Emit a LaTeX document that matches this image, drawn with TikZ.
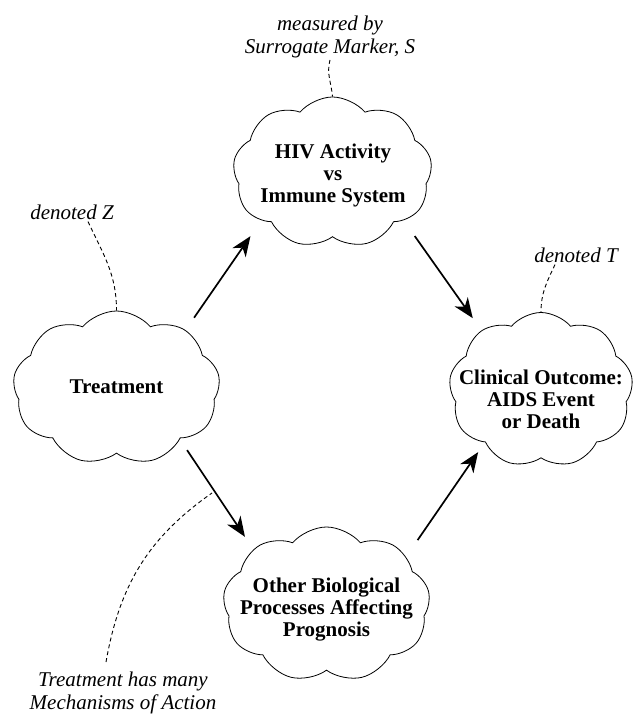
\documentclass[tikz,border=0pt]{standalone}
\usepackage{fontspec}
\setmainfont{Liberation Serif}
\usetikzlibrary{positioning,arrows.meta,shapes.symbols,calc}

\begin{document}
\begin{tikzpicture}[x=1pt,y=1pt,>=Stealth]
  \tikzset{
    blob/.style={cloud,draw=black,line width=0.8pt,cloud puffs=9,cloud puff arc=100,
                 cloud ignores aspect,inner sep=0pt},
    txt/.style={align=center,font=\fontsize{21}{22}\selectfont\bfseries},
    note/.style={align=center,inner sep=2pt,font=\fontsize{21}{22.5}\selectfont\itshape},
    arr/.style={-{Stealth[length=20pt,width=16pt,inset=6pt]},line width=1.7pt},
    hint/.style={dash pattern=on 4pt off 3pt,line width=0.9pt}}
  \useasboundingbox (0,0) rectangle (637,714);
  % the four clouds
  \node[blob,minimum width=207pt,minimum height=154pt] (treat) at (116.5,326){};
  \node[txt] (treatT) at (116.5,327){Treatment};
  \node[blob,minimum width=199pt,minimum height=151pt] (hiv) at (332.5,541.5){};
  \node[txt] (hivT) at (333,539){HIV Activity\\vs\\Immune System};
  \node[blob,minimum width=184pt,minimum height=155pt] (clin) at (541,324){};
  \node[txt] (clinT) at (541,315){Clinical Outcome:\\AIDS Event\\or Death};
  \node[blob,minimum width=207pt,minimum height=155pt] (other) at (326.5,109.5){};
  \node[txt] (otherT) at (326.5,104){Other Biological\\Processes Affecting\\Prognosis};
  % side notes
  \node[note] (labS) at (330,677){measured by\\Surrogate Marker, S};
  \node[note] (labZ) at (72,502){denoted Z};
  \node[note] (labT) at (576,459){denoted T};
  \node[note] (labM) at (123,21){Treatment has many\\Mechanisms of Action};
  \coordinate (mech) at (212,221);
  % arrows
  \draw[arr,shorten <=15pt,shorten >=19pt] (treat.40) -- (hiv.214);
  \draw[arr,shorten <=19pt,shorten >=15pt] (hiv.326) -- (clin.135);
  \draw[arr,shorten <=13pt,shorten >=15pt] (treat.321) -- (other.143);
  \draw[arr,shorten <=20pt,shorten >=12pt] (other.31) -- (clin.223);
  % dashed pointers
  \draw[hint] (labS.south) to[out=255,in=95] (hiv.north);
  \draw[hint] ([xshift=16pt]labZ.south) to[out=-65,in=90] (treat.north);
  \draw[hint] ([xshift=-21pt]labT.south) to[out=245,in=90] (clin.north);
  \draw[hint] ([xshift=-17pt,yshift=8pt]labM.north) to[out=80,in=215] (mech);
\end{tikzpicture}
\end{document}
